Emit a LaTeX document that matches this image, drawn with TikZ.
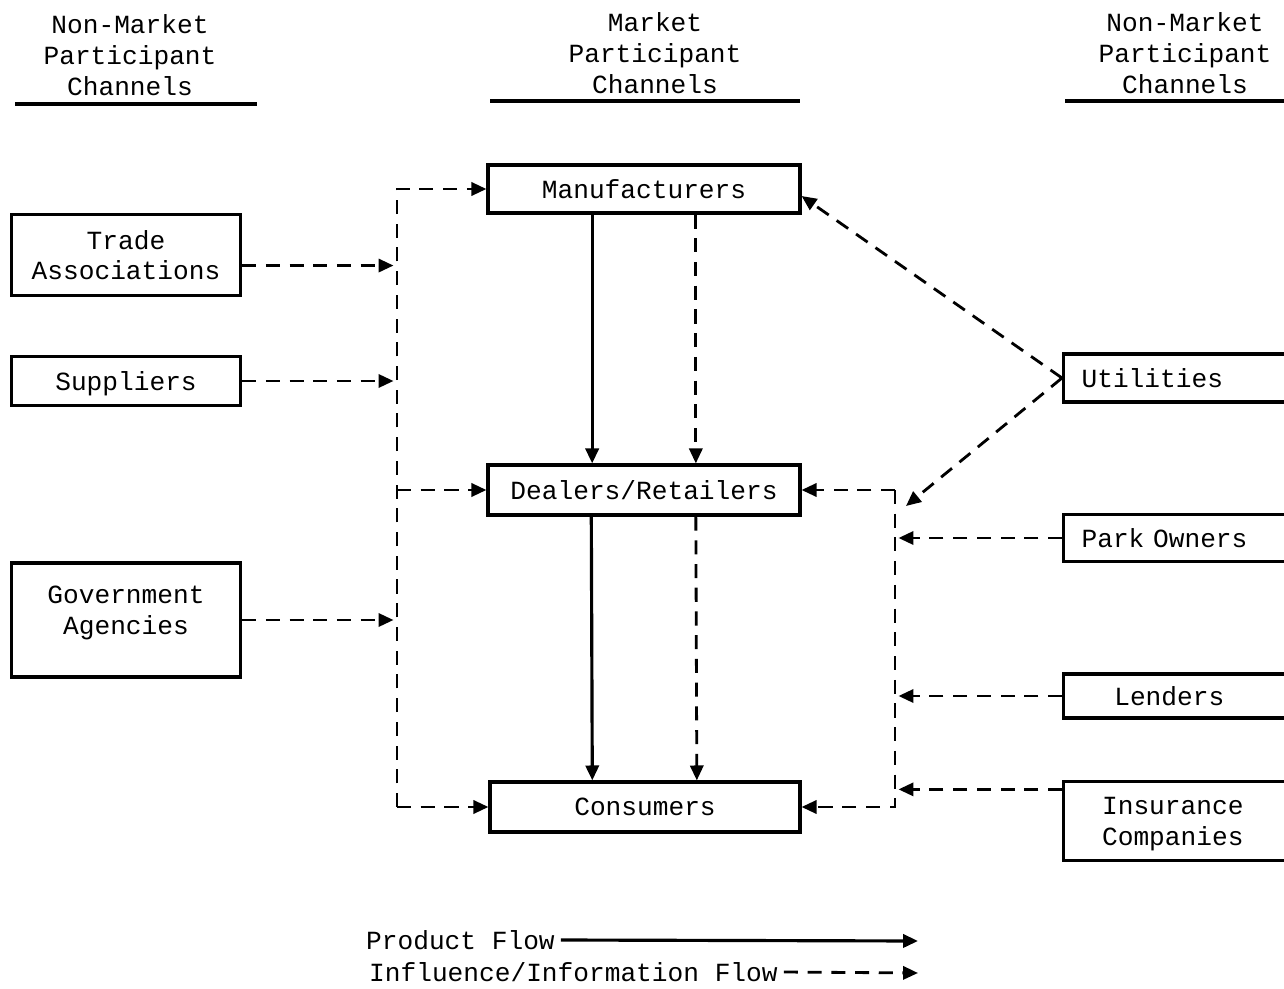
\documentclass[tikz,border=0pt]{standalone}
\usepackage{fontspec}
\setmainfont{Liberation Mono}
\usetikzlibrary{arrows.meta}

\tikzset{
  box/.style 2 args={draw, line width=1.8pt, align=center, inner sep=0pt,
    text depth=0pt, minimum width=#1*0.02cm, minimum height=#2*0.02cm},
  sidebox/.style={box={236}{#1}, anchor=west},
  info/.style={line width=1.6pt, dash pattern=on 8pt off 5.5pt,
    -{Triangle[length=8.5pt,width=7.5pt]}},
  prod/.style={line width=1.8pt, -{Triangle[length=8.5pt,width=7.5pt]}},
  rule/.style={line width=1.8pt}
}

\begin{document}
\begin{tikzpicture}[x=0.02cm, y=-0.02cm, font=\fontsize{14.9pt}{17.6pt}\selectfont]
\clip (0,0) rectangle (1284,989);

% column headings
\node[align=center] (hleft) at (130,55) {Non-Market\\Participant\\Channels};
\node[align=center] (hmid) at (655,53) {Market\\Participant\\Channels};
\node[align=center] (hright) at (1185,53) {Non-Market\\Participant\\Channels};
\draw[rule] (15,104) -- (257,104);
\draw[rule] (490,101) -- (800,101);
\draw[rule] (1065,101) -- (1290,101);

% market participants
\node[box={312}{48}] (man) at (644,189) {Manufacturers};
\node[box={312}{50}] (dea) at (644,490) {Dealers/Retailers};
\node[box={310}{50}] (con) at (645,807) {Consumers};

% non-market, left
\node[box={229}{81}] (trade) at (126,255) {Trade\\Associations};
\node[box={229}{49}] (sup) at (126,381) {Suppliers};
\node[box={229}{114}] (gov) at (126,620) {Government\\Agencies\\[-6pt]\mbox{}};

% non-market, right
\node[sidebox=48, align=left, text width=200*0.02cm] (uti) at (1062,378) {Utilities};
\node[sidebox=47, align=left, text width=200*0.02cm] (park) at (1062,538) {Park Owners};
\node[sidebox=44] (lend) at (1062,696) {\hspace*{-14pt}Lenders};
\node[sidebox=79] (ins) at (1062,821) {\hspace*{-10pt}Insurance\\\hspace*{-10pt}Companies};

% product and information flow down the chain
\draw[prod] ([xshift=-29.5pt]man.south) -- ([xshift=-29.5pt]dea.north);
\draw[info] ([xshift=29.5pt]man.south) -- ([xshift=29.5pt]dea.north);
\draw[prod] ([xshift=-30pt]dea.south) -- ([xshift=-30pt]con.north);
\draw[info] ([xshift=29.5pt]dea.south) -- ([xshift=29.5pt]con.north);

% left bus
\coordinate (lbus) at (397,807);
\draw[info] (lbus) |- (man.west);
\draw[info] (lbus) -- (con.west);
\draw[info] (lbus |- dea.west) -- (dea.west);
\path ([yshift=-6pt]trade.east) coordinate (ta);
\draw[info] (ta) -- ([xshift=-2pt]ta -| lbus);
\draw[info] (sup.east) -- ([xshift=-2pt]sup.east -| lbus);
\draw[info] (gov.east) -- ([xshift=-2pt]gov.east -| lbus);

% right bus
\coordinate (rbus) at (895,490);
\coordinate (uend) at (906,506);
\draw[info] (rbus) |- (con.east);
\draw[info] (rbus) -- (dea.east);
\draw[info] (uti.west) -- ([yshift=-4pt]man.east);
\draw[info] (uti.west) -- (uend);
\draw[info] (park.west) -- ([xshift=2pt]park.west -| rbus);
\draw[info] (lend.west) -- ([xshift=2pt]lend.west -| rbus);
\path ([yshift=18pt]ins.west) coordinate (ia);
\draw[info] (ia) -- ([xshift=2pt]ia -| rbus);

% legend
\node[anchor=west] (pf) at (360,940) {Product Flow};
\node[anchor=west] (inf) at (363,972) {Influence/Information Flow};
\coordinate (pend) at (918,941);
\coordinate (iend) at (918,973);
\draw[prod] (pf.east) -- (pend);
\draw[info] (inf.east) -- (iend);
\end{tikzpicture}
\end{document}
